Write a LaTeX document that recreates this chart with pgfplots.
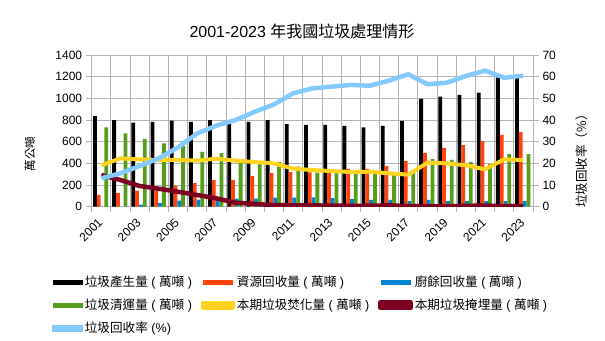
\documentclass[border=0pt]{standalone}
\usepackage{fontspec}
\setmainfont{Liberation Sans}
\newfontfamily\cjk{Noto Sans CJK TC}
\usepackage{pgfplots}
\pgfplotsset{compat=1.18}
\definecolor{cBlack}{HTML}{000000}
\definecolor{cRed}{HTML}{FF420E}
\definecolor{cBlue}{HTML}{0084D1}
\definecolor{cGreen}{HTML}{579D1C}
\definecolor{cYellow}{HTML}{FFD320}
\definecolor{cDark}{HTML}{7E0021}
\definecolor{cLight}{HTML}{83CAFF}
\definecolor{cGrid}{HTML}{B3B3B3}
\pgfplotsset{sq/.style={legend image code/.code={\fill[#1] (0pt,-2.6pt) rectangle (30pt,2.6pt);}}}
\begin{document}
\begin{tikzpicture}[x=1pt,y=1pt]
\useasboundingbox (0,0) rectangle (605,340);
\node[font=\fontsize{16}{19}\selectfont] at (302,309) {2001-2023 {\cjk 年我國垃圾處理情形}};
\node[rotate=90,font=\fontsize{11.5}{13}\selectfont\cjk] at (30,186) {萬公噸};
\node[rotate=90,font=\fontsize{12.5}{14}\selectfont\cjk] at (582,182) {垃圾回收率（\%）};
\begin{axis}[
  at={(91.7pt,133.3pt)}, anchor=south west,
  width=441.3pt, height=151.7pt, scale only axis,
  xmin=-0.5, xmax=22.5, ymin=0, ymax=1400,
  ytick={0,200,...,1400},
  xtick={0,2,...,22},
  xticklabels={2001,2003,2005,2007,2009,2011,2013,2015,2017,2019,2021,2023},
  minor xtick={-0.5,0.5,...,22.5},
  xminorgrids, ymajorgrids,
  grid style={cGrid, line width=0.8pt},
  minor grid style={cGrid, line width=0.8pt},
  axis line style={cGrid, line width=0.8pt},
  tick style={cGrid, line width=0.8pt},
  major x tick style={draw=none},
  tick align=outside,
  ytick pos=left, xtick pos=bottom,
  major tick length=6pt, minor tick length=5pt,
  /pgf/number format/assume math mode=true,
  /pgf/number format/set thousands separator={},
  ticklabel style={font=\fontsize{12}{14}\selectfont},
  xticklabel style={xshift=-4pt, yshift=-3pt, rotate=45, anchor=north east, inner sep=1pt},
  legend columns=3,
  legend cell align=left,
  legend style={at={(-0.0893,-0.4206)}, anchor=north west, draw=none, fill=none,
    inner sep=0pt, font=\fontsize{12.6}{14}\selectfont,
    nodes={minimum height=23pt, inner xsep=2pt},
    /tikz/every even column/.append style={column sep=7pt}},
]
\addplot[ybar, fill=cBlack, draw=none, bar width=3.8pt, bar shift=-6.35pt, sq=cBlack] coordinates {
(0,837)(1,800)(2,775)(3,782)(4,794)(5,782)(6,800)(7,763)(8,782)(9,800)(10,763)(11,754)(12,754)(13,745)(14,732)(15,745)(16,791)(17,994)(18,1015)(19,1031)(20,1052)(21,1194)(22,1192)};
\addlegendentry{{\cjk 垃圾產生量} ( {\cjk 萬噸} )}
\addplot[ybar, fill=cRed, draw=none, bar width=3.8pt, bar shift=-2.57pt, sq=cRed] coordinates {
(0,108)(1,126)(2,148)(3,150)(4,194)(5,218)(6,246)(7,246)(8,283)(9,311)(10,320)(11,317)(12,320)(13,348)(14,348)(15,375)(16,421)(17,495)(18,542)(19,569)(20,606)(21,662)(22,689)};
\addlegendentry{{\cjk 資源回收量} ( {\cjk 萬噸} )}
\addplot[ybar, fill=cBlue, draw=none, bar width=3.8pt, bar shift=1.21pt, sq=cBlue] coordinates {
(0,0)(1,0)(2,18)(3,34)(4,55)(5,65)(6,74)(7,74)(8,74)(9,83)(10,83)(11,86)(12,80)(13,71)(14,62)(15,62)(16,52)(17,62)(18,52)(19,52)(20,52)(21,52)(22,52)};
\addlegendentry{{\cjk 廚餘回收量} ( {\cjk 萬噸} )}
\addplot[ybar, fill=cGreen, draw=none, bar width=3.8pt, bar shift=5.0pt, sq=cGreen] coordinates {
(0,732)(1,677)(2,625)(3,585)(4,560)(5,505)(6,495)(7,440)(8,406)(9,412)(10,369)(11,314)(12,314)(13,308)(14,308)(15,302)(16,314)(17,440)(18,431)(19,412)(20,394)(21,486)(22,486)};
\addlegendentry{{\cjk 垃圾清運量} ( {\cjk 萬噸} )}
\addplot[cYellow, line width=4pt, line join=round, sharp plot, mark=none, sq=cYellow] coordinates {
(0,382)(1,446)(2,437)(3,431)(4,431)(5,425)(6,443)(7,425)(8,412)(9,400)(10,351)(11,338)(12,329)(13,320)(14,323)(15,308)(16,295)(17,406)(18,400)(19,382)(20,345)(21,437)(22,431)};
\addlegendentry{{\cjk 本期垃圾焚化量} ( {\cjk 萬噸} )}
\addplot[cDark, line width=4.5pt, line join=round, sharp plot, mark=none, sq=cDark] coordinates {
(0,292)(1,246)(2,191)(3,166)(4,138)(5,108)(6,77)(7,37)(8,25)(9,15)(10,12)(11,12)(12,10)(13,8)(14,9)(15,12)(16,6)(17,4)(18,4)(19,8)(20,10)(21,6)(22,4)};
\addlegendentry{{\cjk 本期垃圾掩埋量} ( {\cjk 萬噸} )}
\addlegendimage{sq=cLight}
\addlegendentry{{\cjk 垃圾回收率} (\%)}
\end{axis}
\begin{axis}[
  at={(91.7pt,133.3pt)}, anchor=south west,
  width=441.3pt, height=151.7pt, scale only axis,
  xmin=-0.5, xmax=22.5, ymin=0, ymax=70,
  ytick={0,10,...,70},
  axis y line*=right, axis x line=none,
  axis line style={cGrid, line width=0.8pt},
  tick style={cGrid, line width=0.8pt},
  tick align=outside, major tick length=6pt,
  /pgf/number format/assume math mode=true,
  ticklabel style={font=\fontsize{12}{14}\selectfont},
]
\addplot[cLight, line width=4.5pt, line join=round, sharp plot, mark=none] coordinates {
(0,13.1)(1,15.4)(2,18.8)(3,22.3)(4,27.4)(5,33.8)(6,37.4)(7,40.0)(8,43.8)(9,47.2)(10,52.3)(11,54.6)(12,55.4)(13,56.2)(14,55.8)(15,58.2)(16,61.1)(17,56.5)(18,57.2)(19,60.3)(20,62.8)(21,59.5)(22,60.5)};
\end{axis}
\end{tikzpicture}
\end{document}
